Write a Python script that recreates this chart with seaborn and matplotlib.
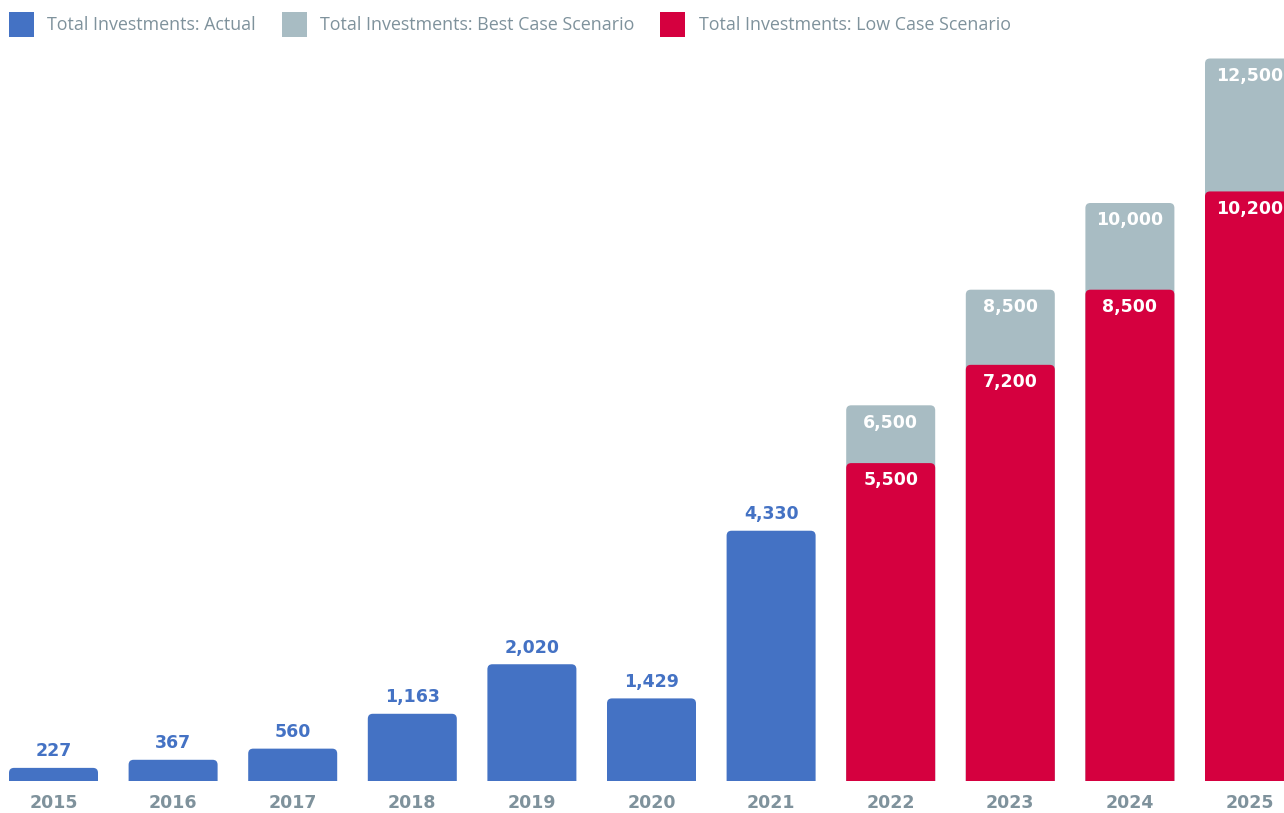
import numpy as np
import pandas as pd
import matplotlib
matplotlib.use("Agg")
import matplotlib.pyplot as plt
from matplotlib.patches import Patch, PathPatch, Rectangle
from matplotlib.path import Path
import seaborn as sns

# ---- data ----
years = ["2015", "2016", "2017", "2018", "2019", "2020", "2021",
         "2022", "2023", "2024", "2025"]
actual_years = ["2015", "2016", "2017", "2018", "2019", "2020", "2021"]
actual_values = [227, 367, 560, 1163, 2020, 1429, 4330]
scenario_years = ["2022", "2023", "2024", "2025"]
best_values = [6500, 8500, 10000, 12500]
low_values = [5500, 7200, 8500, 10200]

series_labels = ["Total Investments: Actual",
                 "Total Investments: Best Case Scenario",
                 "Total Investments: Low Case Scenario"]

BLUE = "#4472c4"
GREY = "#a8bcc3"
RED = "#d5003f"
TEXT = "#7f929c"

sns.set_theme(style="white")
plt.rcParams["font.family"] = ["DejaVu Sans"]

W, H, DPI = 1284, 813, 100
fig = plt.figure(figsize=(W / DPI, H / DPI), dpi=DPI)

base_px = 781          # baseline distance from top, pixels
ax = fig.add_axes([0, (H - base_px) / H, 1, base_px / H])

px_per_unit = 0.0578
step_px = 119.6
first_px = 53.5
xlim = (-first_px / step_px, (W - first_px) / step_px)
ylim = (0, base_px / px_per_unit)

bar_w = 89 / step_px
rad_px = 5
rx = rad_px / step_px
ry_full = rad_px / px_per_unit


def rounded_top_path(x, h, w):
    ry = min(ry_full, h)
    verts = [(x, 0), (x + w, 0), (x + w, h - ry),
             (x + w, h), (x + w - rx, h),
             (x + rx, h),
             (x, h), (x, h - ry),
             (x, 0)]
    codes = [Path.MOVETO, Path.LINETO, Path.LINETO,
             Path.CURVE3, Path.CURVE3,
             Path.LINETO,
             Path.CURVE3, Path.CURVE3,
             Path.CLOSEPOLY]
    return Path(verts, codes)


def round_tops(start):
    """Swap the bars added since `start` for shapes with rounded top corners."""
    for p in list(ax.patches)[start:]:
        if not isinstance(p, Rectangle):
            continue
        x, w, h = p.get_x(), p.get_width(), p.get_height()
        if not np.isfinite(h) or h <= 0:
            continue
        fc = p.get_facecolor()
        z = p.get_zorder()
        p.remove()
        ax.add_patch(PathPatch(rounded_top_path(x, h, w), facecolor=fc,
                               edgecolor="none", linewidth=0, zorder=z))


df_best = pd.DataFrame({"year": scenario_years, "value": best_values})
df_low = pd.DataFrame({"year": scenario_years, "value": low_values})
df_act = pd.DataFrame({"year": actual_years, "value": actual_values})

for df, col in [(df_best, GREY), (df_low, RED), (df_act, BLUE)]:
    n0 = len(ax.patches)
    sns.barplot(data=df, x="year", y="value", order=years, color=col,
                saturation=1, width=bar_w, errorbar=None, ax=ax)
    round_tops(n0)

ax.set_xlim(*xlim)
ax.set_ylim(*ylim)
ax.set_xlabel("")
ax.set_ylabel("")
ax.set_yticks([])
sns.despine(ax=ax, left=True, bottom=True)
ax.tick_params(axis="x", length=0, pad=9)
ax.set_xticks(range(len(years)))
ax.set_xticklabels(years, fontsize=12.5, fontweight="bold", color=TEXT)

# value labels
pos = {y: i for i, y in enumerate(years)}
for yr, v in zip(actual_years, actual_values):
    ax.annotate(f"{v:,}", (pos[yr], v), xytext=(0, 12), textcoords="offset points",
                ha="center", va="center", fontsize=12.5, fontweight="bold", color=BLUE)
for vals in (best_values, low_values):
    for yr, v in zip(scenario_years, vals):
        ax.annotate(f"{v:,}", (pos[yr], v), xytext=(0, -12.5), textcoords="offset points",
                    ha="center", va="center", fontsize=12.5, fontweight="bold",
                    color="white")

handles = [Patch(facecolor=c, edgecolor="none") for c in (BLUE, GREY, RED)]
fig.legend(handles, series_labels, loc="upper left",
           bbox_to_anchor=(2 / W, 1 - 5 / H), ncol=3, frameon=False,
           prop={"family": "Open Sans", "size": 12.9}, labelcolor=TEXT,
           handlelength=1.38, handleheight=1.75, handletextpad=0.75,
           columnspacing=1.45, borderaxespad=0)

fig.savefig("out.png", dpi=DPI)
